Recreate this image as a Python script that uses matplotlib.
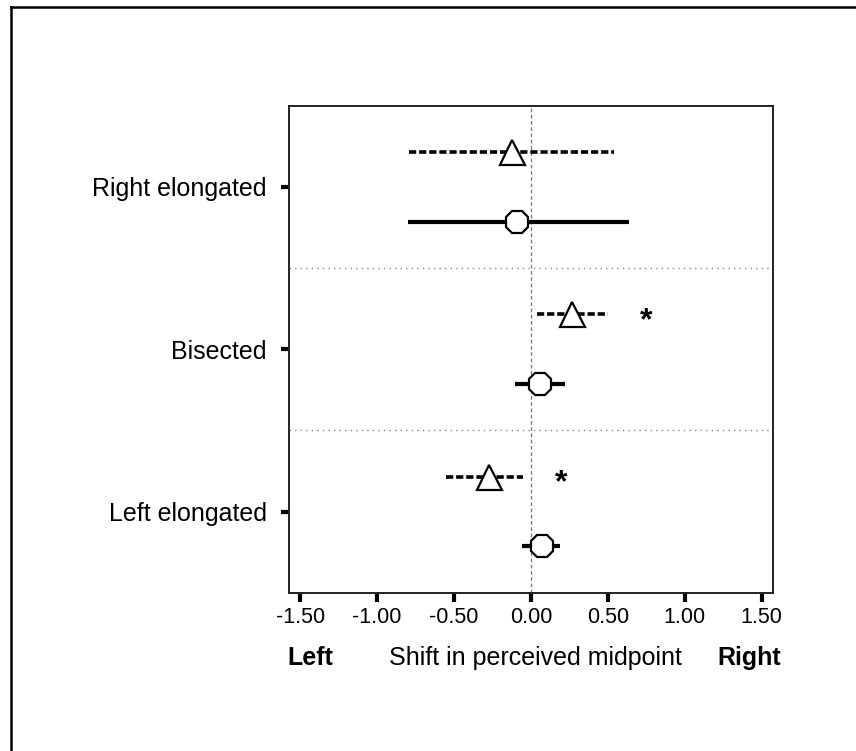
import numpy as np
import matplotlib.pyplot as plt
from matplotlib.lines import Line2D

plt.rcParams['font.family'] = ['Liberation Sans', 'DejaVu Sans']

# Conditions, top to bottom
conditions = ["Right elongated", "Bisected", "Left elongated"]

# Triangle series (dashed CI): mean and 95% interval
tri_mean = [-0.12, 0.27, -0.275]
tri_lo = [-0.79, 0.04, -0.55]
tri_hi = [0.54, 0.50, -0.05]
tri_signif = [False, True, True]

# Circle series (solid CI): mean and 95% interval
circ_mean = [-0.09, 0.06, 0.07]
circ_lo = [-0.80, -0.10, -0.06]
circ_hi = [0.64, 0.22, 0.19]

xticks = [-1.5, -1.0, -0.5, 0.0, 0.5, 1.0, 1.5]

fig = plt.figure(figsize=(8.56, 7.51), dpi=100)
ax = fig.add_axes([0.3376, 0.2108, 0.5651, 0.6485])

ypos = np.arange(len(conditions))
off = 0.215
y_tri = ypos - off
y_circ = ypos + off

# zero reference
ax.axvline(0, color='#777777', lw=0.9, ls=(0, (3, 2)), zorder=1)
# separators between conditions
for yb in (ypos[:-1] + 0.5):
    ax.axhline(yb, color='#888888', lw=1.0, ls=(0, (1, 3)), zorder=1)

ax.hlines(y_tri, tri_lo, tri_hi, colors='black', lw=2.6, linestyles=(0, (2, 0.8)), zorder=2)
ax.hlines(y_circ, circ_lo, circ_hi, colors='black', lw=3.0, zorder=2)

ax.plot(tri_mean, y_tri, ls='none', marker='^', ms=18, mfc='white', mec='black', mew=1.6, zorder=3)
ax.plot(circ_mean, y_circ, ls='none', marker='8', ms=17, mfc='white', mec='black', mew=1.6, zorder=3)

for yy, hi, sig in zip(y_tri, tri_hi, tri_signif):
    if sig:
        ax.text(hi + 0.25, yy + 0.04, '*', ha='center', va='center', fontsize=23, fontweight='bold')

ax.set_xlim(-1.572, 1.572)
ax.set_ylim(2.5, -0.5)
ax.set_xticks(xticks)
ax.set_xticklabels([f"{v:.2f}" for v in xticks])
ax.set_yticks(ypos)
ax.set_yticklabels(conditions)
ax.tick_params(axis='x', length=6.5, width=3, labelsize=15.5, pad=4)
ax.tick_params(axis='y', length=6, width=3, labelsize=18, pad=10)
for sp in ax.spines.values():
    sp.set_linewidth(1.4)
    sp.set_color('#222222')

# axis caption row
yb = 1 - 665 / 751
fig.text(287.3 / 856, yb, 'Left', fontsize=18, fontweight='bold', ha='left', va='baseline')
fig.text(535.4 / 856, yb, 'Shift in perceived midpoint', fontsize=18, ha='center', va='baseline')
fig.text(780.7 / 856, yb, 'Right', fontsize=18, fontweight='bold', ha='right', va='baseline')

# outer frame (left and top edges)
fig.add_artist(Line2D([11 / 856, 11 / 856], [0, 1 - 6.5 / 751], transform=fig.transFigure, color='black', lw=1.8))
fig.add_artist(Line2D([11 / 856, 1], [1 - 6.5 / 751, 1 - 6.5 / 751], transform=fig.transFigure, color='black', lw=1.8))

fig.savefig('out.png', dpi=100)
